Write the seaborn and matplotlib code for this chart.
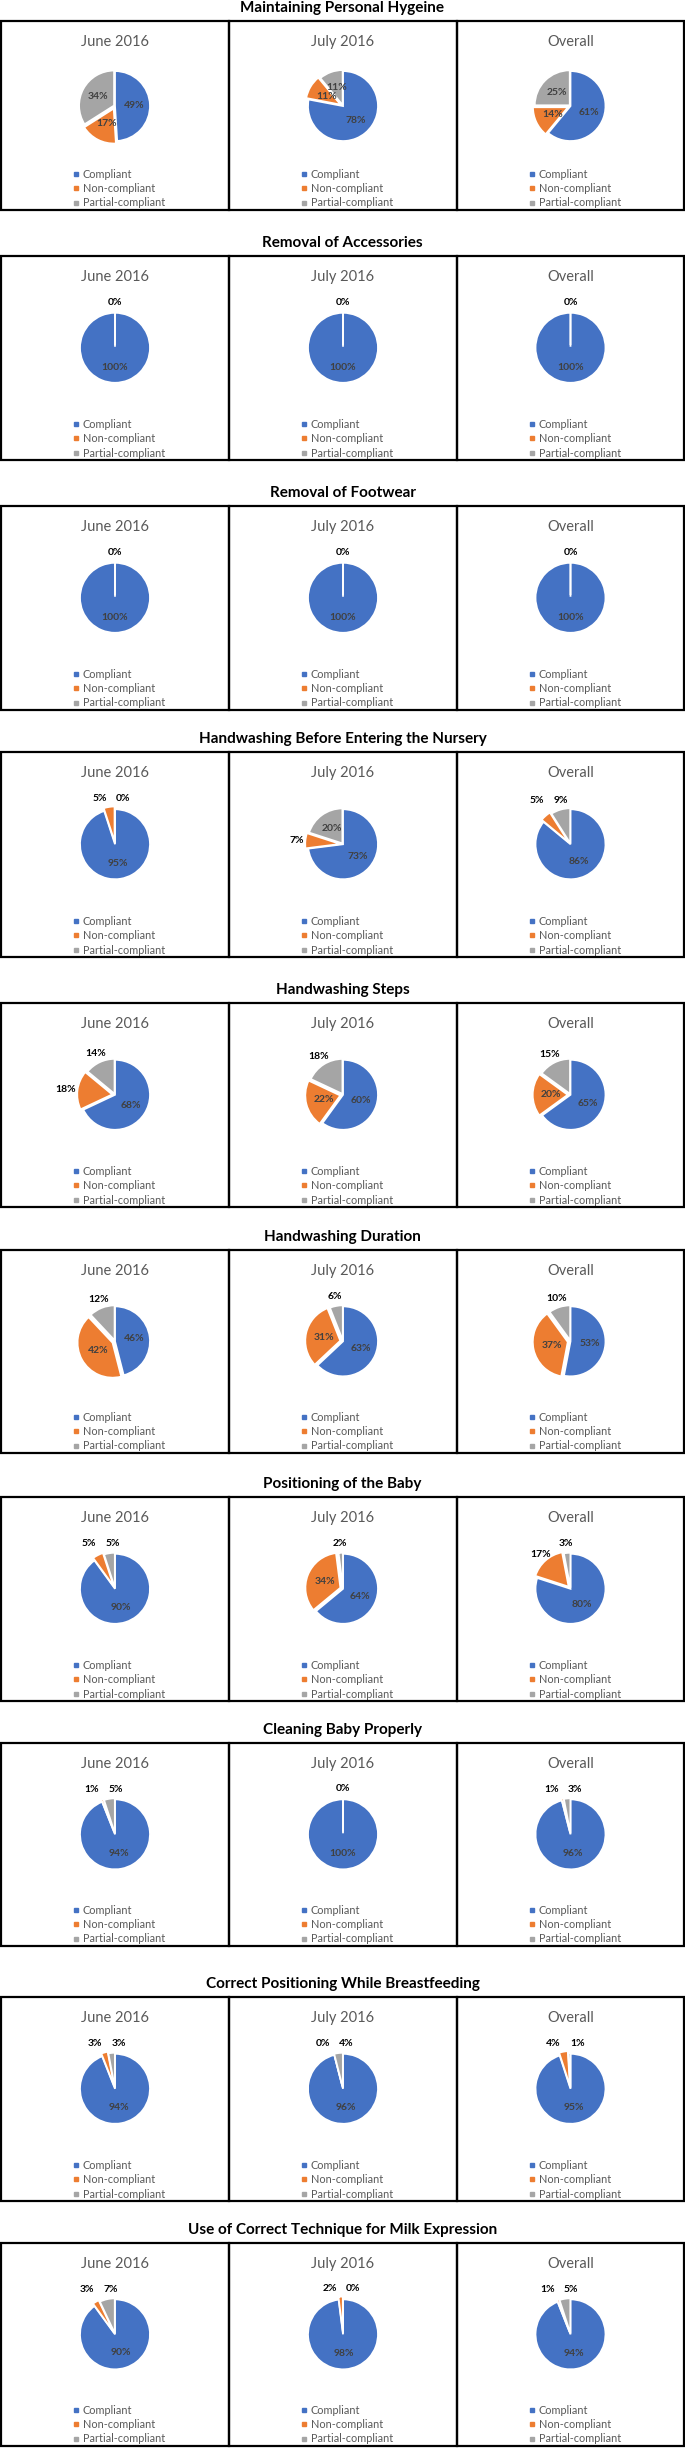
import matplotlib
matplotlib.use("Agg")
import matplotlib.pyplot as plt
import seaborn as sns
import numpy as np
from matplotlib.patches import Rectangle
from matplotlib.lines import Line2D

sns.set_theme(style="white")
plt.rcParams['font.family'] = ['Lato', 'DejaVu Sans']

# ---------------- data ----------------
titles = [
    "Maintaining Personal Hygeine",
    "Removal of Accessories",
    "Removal of Footwear",
    "Handwashing Before Entering the Nursery",
    "Handwashing Steps",
    "Handwashing Duration",
    "Positioning of the Baby",
    "Cleaning Baby Properly",
    "Correct Positioning While Breastfeeding",
    "Use of Correct Technique for Milk Expression",
]
periods = ["June 2016", "July 2016", "Overall"]
categories = ["Compliant", "Non-compliant", "Partial-compliant"]

compliant = [[49, 78, 61], [100, 100, 100], [100, 100, 100], [95, 73, 86], [68, 60, 65],
             [46, 63, 53], [90, 64, 80], [94, 100, 96], [94, 96, 95], [90, 98, 94]]
non_compliant = [[17, 11, 14], [0, 0, 0], [0, 0, 0], [5, 7, 5], [18, 22, 20],
                 [42, 31, 37], [5, 34, 17], [1, 0, 1], [3, 0, 4], [3, 2, 1]]
partial_compliant = [[34, 11, 25], [0, 0, 0], [0, 0, 0], [0, 20, 9], [14, 18, 15],
                     [12, 6, 10], [5, 2, 3], [5, 0, 3], [3, 4, 1], [7, 0, 5]]

# ---------------- style / layout ----------------
palette = sns.color_palette(["#4472C4", "#ED7D31", "#A5A5A5"])
W, H = 685, 2448
fig = plt.figure(figsize=(W / 100, H / 100), dpi=100)
fig.patch.set_facecolor("white")

box_top = [21, 256, 506, 752, 1003, 1250, 1497, 1743, 1997, 2243]
box_bot = [210, 460, 710, 957, 1207, 1453, 1701, 1946, 2201, 2446]
col_edges = [1, 229, 457, 684]
R = 35.0       # pie radius in px
LIM = 1.7


def fx(x):
    return x / W


def fy(y):
    return 1 - y / H


handles = [Line2D([0], [0], marker="s", linestyle="none", markersize=3,
                  markerfacecolor=c, markeredgecolor=c) for c in palette]

for r in range(len(titles)):
    top, bot = box_top[r], box_bot[r]
    fig.text(0.5, fy(top - 13), titles[r], ha="center", va="center",
             fontsize=11, fontweight="bold", color="black")
    for c in range(3):
        x0, x1 = col_edges[c], col_edges[c + 1]
        cx = (x0 + x1) / 2
        fig.add_artist(Rectangle((fx(x0), fy(bot)), (x1 - x0) / W, (bot - top) / H,
                                 transform=fig.transFigure, fill=False,
                                 edgecolor="black", linewidth=1.6))
        fig.text(fx(cx), fy(top + 21), periods[c], ha="center", va="center",
                 fontsize=10.5, color="#595959")
        cy = top + 0.45 * (bot - top)
        S = 2 * R * LIM
        ax = fig.add_axes([fx(cx - S / 2), fy(cy + S / 2), S / W, S / H])
        vals = [compliant[r][c], non_compliant[r][c], partial_compliant[r][c]]
        wedges, _ = ax.pie(vals, colors=palette, startangle=90, counterclock=False,
                           explode=(0, 0.08, 0.03), radius=1,
                           wedgeprops=dict(edgecolor="white", linewidth=1.3))
        ax.set_xlim(-LIM, LIM)
        ax.set_ylim(-LIM, LIM)
        ax.set_aspect("equal")
        ax.axis("off")
        # labels
        outs = []
        for i, (w, v) in enumerate(zip(wedges, vals)):
            mid = np.deg2rad((w.theta1 + w.theta2) / 2)
            inside = v >= 20 or (r == 0)
            if inside:
                ax.text(0.55 * np.cos(mid), 0.55 * np.sin(mid), f"{v}%",
                        ha="center", va="center", fontsize=7.5, fontweight="bold",
                        color="#404040")
            else:
                outs.append([mid, v])
        pos = []
        for mid, v in outs:
            cs = np.cos(mid)
            if cs < -0.7:
                pos.append([1.12 * cs, 1.12 * np.sin(mid), "right", v, mid])
            elif cs > 0.7:
                pos.append([1.12 * cs, 1.12 * np.sin(mid), "left", v, mid])
            else:
                pos.append([1.3 * cs, 1.3 * np.sin(mid), "center", v, mid])
        if len(pos) == 2:
            a, b = pos
            same = abs(np.cos(a[4]) - np.cos(b[4])) < 1e-6 and abs(np.sin(a[4]) - np.sin(b[4])) < 1e-6
            if same:
                pos = [a]
            elif abs(a[0] - b[0]) < 0.6 and abs(a[1] - b[1]) < 0.35:
                xm = (a[0] + b[0]) / 2
                ym = max(a[1], b[1])
                left, right = (a, b) if a[0] <= b[0] else (b, a)
                left[0], right[0] = xm - 0.34, xm + 0.34
                left[1] = right[1] = ym
                left[2] = right[2] = "center"
        for x, y, ha, v, _m in pos:
            ax.text(x, y, f"{v}%", ha=ha, va="center", fontsize=7.5,
                    fontweight="bold", color="black")
        # legend
        leg_top = bot - 35 - 6
        lg = ax.legend(handles=handles, labels=categories, loc="upper left",
                       bbox_to_anchor=(fx(x0 + 72), fy(leg_top)),
                       bbox_transform=fig.transFigure, frameon=False, fontsize=7.8,
                       labelcolor="#595959", handlelength=0.5, handletextpad=0.4,
                       labelspacing=0.3, borderpad=0, borderaxespad=0)

fig.savefig("out.png", dpi=100, facecolor="white")
